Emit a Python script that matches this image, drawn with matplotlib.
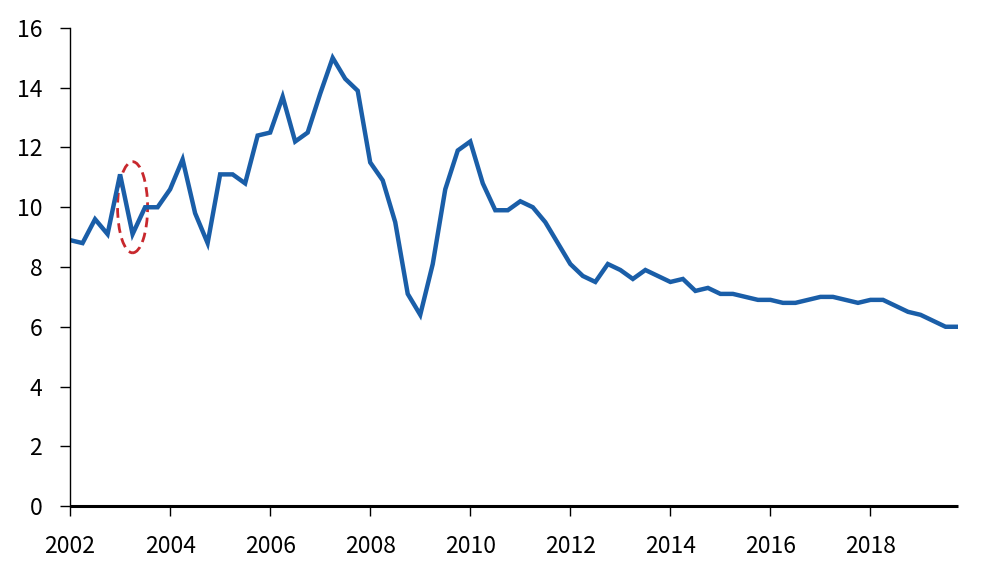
import matplotlib.pyplot as plt
from matplotlib.patches import Ellipse

plt.rcParams['font.family'] = ['Noto Sans CJK SC', 'DejaVu Sans']

# quarterly values, 2002Q1 .. 2019Q4
valores = [8.9, 8.8, 9.6, 9.1, 11.1, 9.1, 10.0, 10.0,
           10.6, 11.6, 9.8, 8.8, 11.1, 11.1, 10.8, 12.4,
           12.5, 13.7, 12.2, 12.5, 13.8, 15.0, 14.3, 13.9,
           11.5, 10.9, 9.5, 7.1, 6.4, 8.1, 10.6, 11.9,
           12.2, 10.8, 9.9, 9.9, 10.2, 10.0, 9.5, 8.8,
           8.1, 7.7, 7.5, 8.1, 7.9, 7.6, 7.9, 7.7,
           7.5, 7.6, 7.2, 7.3, 7.1, 7.1, 7.0, 6.9,
           6.9, 6.8, 6.8, 6.9, 7.0, 7.0, 6.9, 6.8,
           6.9, 6.9, 6.7, 6.5, 6.4, 6.2, 6.0, 6.0]
anos = list(range(2002, 2019, 2))
yticks = [0, 2, 4, 6, 8, 10, 12, 14, 16]

x = list(range(len(valores)))

fig = plt.figure(figsize=(9.81, 5.77), dpi=100)
ax = fig.add_axes([0.0714, 0.123, 0.9052, 0.8285])

ax.plot(x, valores, color='#1a5ea8', linewidth=3.2, solid_joinstyle='miter')

# destaque em 2003T2
ax.add_patch(Ellipse((5, 10.0), width=2.4, height=3.05, fill=False,
                     edgecolor='#c8282d', linestyle=(0, (3.5, 2)), linewidth=2))

ax.set_xlim(0, len(valores) - 1)
ax.set_ylim(0, 16)
ax.set_xticks([(a - 2002) * 4 for a in anos])
ax.set_xticklabels([str(a) for a in anos])
ax.set_yticks(yticks)

for s in ['top', 'right']:
    ax.spines[s].set_visible(False)
ax.spines['left'].set_linewidth(1.0)
ax.spines['bottom'].set_linewidth(2.2)
ax.spines['bottom'].set_capstyle('butt')

ax.tick_params(axis='y', direction='out', length=7, width=1, pad=13, labelsize=16.5)
ax.tick_params(axis='x', direction='out', length=7, width=1, pad=14, labelsize=16.5)

fig.savefig('out.png', dpi=100)
